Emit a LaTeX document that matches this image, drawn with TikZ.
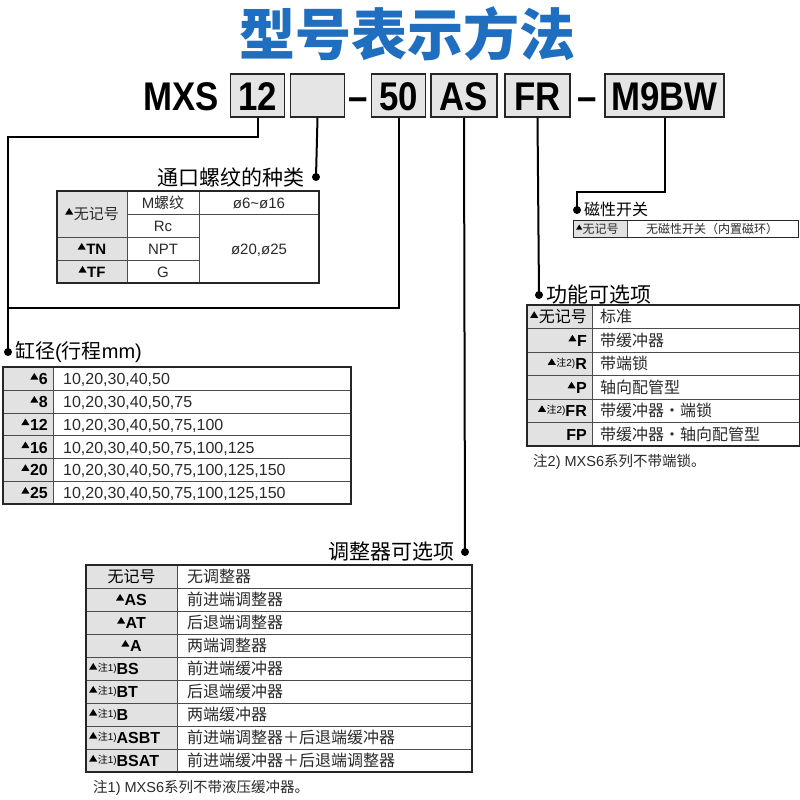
\documentclass[tikz,border=0pt]{standalone}
\usepackage{fontspec}
\setmainfont{Liberation Sans}
\newfontfamily\cjk{Noto Sans CJK SC}
\newfontfamily\cond[FakeStretch=0.87]{Liberation Sans}
\definecolor{titleblue}{HTML}{1F6EBF}
\definecolor{cellgray}{HTML}{E2E2E2}
\definecolor{ink}{HTML}{2A2A2A}
\newcommand\fs[1]{\fontsize{#1}{#1}\selectfont}
\newcommand\tri{\tikz[baseline=0pt,x=1pt,y=1pt]\fill[black] (0,5)--(8,5)--(4,11.5)--cycle;\hspace{0.6pt}}
\newcommand\tris{\tikz[baseline=0pt,x=1pt,y=1pt]\fill[black] (0,3.5)--(6,3.5)--(3,8.5)--cycle;\hspace{0.5pt}}
\newcommand\zhu[1]{\raisebox{3.5pt}{\mdseries\fs{10}{\cjk 注}#1)}}
\begin{document}
\begin{tikzpicture}[x=1pt,y=-1pt,
  conn/.style={line width=2pt,draw=black},
  bullet/.style={circle,fill=black,inner sep=0pt,minimum size=8pt},
  codebox/.style={draw=black!85,line width=1.5pt,fill=black!10,inner sep=0pt,minimum height=43pt,text height=29pt,text depth=0pt,font=\cond\bfseries\fs{40}},
  codetxt/.style={inner sep=0pt,font=\cond\bfseries\fs{40}},
  tblout/.style={draw=black!85,line width=1.3pt},
  gridline/.style={draw=black!70,line width=0.8pt},
  tx/.style={inner sep=0pt,text=ink},
  lab/.style={inner sep=0pt,text=black,font=\bfseries\fs{16}},
  f16/.style={font=\fs{16}},
  f15/.style={font=\fs{15}},
  head/.style={inner sep=0pt,text=black,font=\fs{21}}
]
\useasboundingbox (0,0) rectangle (800,800);
\fill[white] (0,0) rectangle (800,800);

% ---------- title ----------
\node[inner sep=0pt,anchor=base,text=titleblue,font=\cjk\bfseries\fs{56}] (title) at (407,56) {型号表示方法};

% ---------- code line ----------
\node[codetxt,anchor=base west] (mxs) at (143,110.5) {MXS};
\node[codebox,minimum width=54pt] (b12) at (257.5,95.5) {12};
\node[codebox,minimum width=54pt] (bE) at (317.5,95.5) {};
\node[codetxt,anchor=base] (d1) at (358,110.5) {–};
\node[codebox,minimum width=54pt] (b50) at (398.5,95.5) {50};
\node[codebox,minimum width=66pt] (bAS) at (464,95.5) {AS};
\node[codebox,minimum width=65pt] (bFR) at (537.5,95.5) {FR};
\node[codetxt,anchor=base] (d2) at (587,110.5) {–};
\node[codebox,minimum width=119pt] (bM) at (664.5,95.5) {M9BW};

% ---------- bullets & connectors ----------
\node[bullet] (pBore) at (8,352) {};
\node[bullet] (pPort) at (316,177) {};
\node[bullet] (pAdj) at (465,552) {};
\node[bullet] (pFun) at (539,295) {};
\node[bullet] (pMag) at (577,210) {};
\coordinate (c12) at (8,137);
\coordinate (c50) at (8,308);
\coordinate (cM) at (577,192);
\draw[conn] (b12.south) |- (c12) -- (pBore.center);
\draw[conn] (b50.south) |- (c50);
\draw[conn] (bE.south) -- (pPort.center);
\draw[conn] (bAS.south) -- (pAdj.center);
\draw[conn] (bFR.south) -- (pFun.center);
\draw[conn] (bM.south) |- (cM) -- (pMag.center);

% ---------- port thread table ----------
\node[head,anchor=base east] (hPort) at (305,185) {\cjk 通口螺纹的种类};
\fill[cellgray] (57,191) rectangle (127,283);
\draw[gridline] (127,191) -- (127,283) (199,191) -- (199,283)
  (57,237) -- (199,237) (57,260) -- (199,260) (127,214) -- (319,214);
\draw[tblout] (57,191) rectangle (319,283);
\node[tx,f15,anchor=base] at (92,219.5) {\tri{\cjk 无记号}};
\node[lab,font=\bfseries\fs{15},anchor=base] at (92,254.5) {\tri TN};
\node[lab,font=\bfseries\fs{15},anchor=base] at (92,277.5) {\tri TF};
\node[tx,f15,anchor=base] at (163,208.5) {M{\cjk 螺纹}};
\node[tx,f15,anchor=base] at (163,231.5) {Rc};
\node[tx,f15,anchor=base] at (163,254.5) {NPT};
\node[tx,f15,anchor=base] at (163,277.5) {G};
\node[tx,f15,anchor=base] at (259,208.5) {ø6\textasciitilde ø16};
\node[tx,f15,anchor=base] at (259,254.5) {ø20,ø25};

% ---------- magnetic switch ----------
\node[head,font=\fs{16},anchor=base west] (hMag) at (584,215) {\cjk 磁性开关};
\fill[cellgray] (573,220) rectangle (627,237);
\draw[gridline] (627,220) -- (627,237);
\draw[tblout,line width=1pt] (573,220) rectangle (798,237);
\node[tx,font=\fs{12},anchor=base west] at (576,233) {\tris{\cjk 无记号}};
\node[tx,font=\fs{12},anchor=base] at (712,233) {\cjk 无磁性开关（内置磁环）};

% ---------- function options ----------
\node[head,anchor=base west] (hFun) at (546,302) {\cjk 功能可选项};
\fill[cellgray] (527,305) rectangle (592,446);
\draw[gridline] (592,305) -- (592,446);
\foreach \y in {328.5,352,375.5,399,422.5} \draw[gridline] (527,\y) -- (800,\y);
\draw[tblout] (799.5,305) -- (527,305) -- (527,446) -- (799.5,446) -- cycle;
\node[tx,f16,text=black,anchor=base east] at (587,322.75) {\tri{\cjk 无记号}};
\node[lab,anchor=base east] at (587,346.25) {\tri F};
\node[lab,anchor=base east] at (587,369.75) {\tri\zhu{2}R};
\node[lab,anchor=base east] at (587,393.25) {\tri P};
\node[lab,anchor=base east] at (587,416.75) {\tri\zhu{2}FR};
\node[lab,anchor=base east] at (587,440.25) {FP};
\node[tx,f16,anchor=base west] at (600,322.75) {\cjk 标准};
\node[tx,f16,anchor=base west] at (600,346.25) {\cjk 带缓冲器};
\node[tx,f16,anchor=base west] at (600,369.75) {\cjk 带端锁};
\node[tx,f16,anchor=base west] at (600,393.25) {\cjk 轴向配管型};
\node[tx,f16,anchor=base west] at (600,416.75) {\cjk 带缓冲器・端锁};
\node[tx,f16,anchor=base west] at (600,440.25) {\cjk 带缓冲器・轴向配管型};
\node[tx,font=\fs{14.5},anchor=base west] (n2) at (533,466) {{\cjk 注}2) MXS6{\cjk 系列不带端锁。}};

% ---------- bore / stroke ----------
\node[head,font=\fs{20},anchor=base west] (hBore) at (15,358) {{\cjk 缸径}({\cjk 行程}mm)};
\fill[cellgray] (3,367) rectangle (53,504);
\draw[gridline] (53,367) -- (53,504);
\foreach \y in {390,413,435.5,458.5,481} \draw[gridline] (3,\y) -- (351,\y);
\draw[tblout] (3,367) rectangle (351,504);
\node[lab,anchor=base east] at (48,384.5) {\tri 6};
\node[lab,anchor=base east] at (48,407.5) {\tri 8};
\node[lab,anchor=base east] at (48,430) {\tri 12};
\node[lab,anchor=base east] at (48,453) {\tri 16};
\node[lab,anchor=base east] at (48,475.75) {\tri 20};
\node[lab,anchor=base east] at (48,498.5) {\tri 25};
\node[tx,f16,anchor=base west] at (63,384.5) {10,20,30,40,50};
\node[tx,f16,anchor=base west] at (63,407.5) {10,20,30,40,50,75};
\node[tx,f16,anchor=base west] at (63,430) {10,20,30,40,50,75,100};
\node[tx,f16,anchor=base west] at (63,453) {10,20,30,40,50,75,100,125};
\node[tx,f16,anchor=base west] at (63,475.75) {10,20,30,40,50,75,100,125,150};
\node[tx,f16,anchor=base west] at (63,498.5) {10,20,30,40,50,75,100,125,150};

% ---------- adjuster options ----------
\node[head,anchor=base east] (hAdj) at (455,559) {\cjk 调整器可选项};
\fill[cellgray] (86,565) rectangle (177,772);
\draw[gridline] (177,565) -- (177,772);
\foreach \y in {588,611,634,657,680,703,726,749} \draw[gridline] (86,\y) -- (472,\y);
\draw[tblout] (86,565) rectangle (472,772);
\node[tx,f16,text=black,anchor=base] at (131.5,582.5) {\cjk 无记号};
\node[lab,anchor=base] at (131.5,605.5) {\tri AS};
\node[lab,anchor=base] at (131.5,628.5) {\tri AT};
\node[lab,anchor=base] at (131.5,651.5) {\tri A};
\node[lab,anchor=base west] at (89,674.5) {\tri\zhu{1}BS};
\node[lab,anchor=base west] at (89,697.5) {\tri\zhu{1}BT};
\node[lab,anchor=base west] at (89,720.5) {\tri\zhu{1}B};
\node[lab,anchor=base west] at (89,743.5) {\tri\zhu{1}ASBT};
\node[lab,anchor=base west] at (89,766.5) {\tri\zhu{1}BSAT};
\node[tx,f16,anchor=base west] at (187,582.5) {\cjk 无调整器};
\node[tx,f16,anchor=base west] at (187,605.5) {\cjk 前进端调整器};
\node[tx,f16,anchor=base west] at (187,628.5) {\cjk 后退端调整器};
\node[tx,f16,anchor=base west] at (187,651.5) {\cjk 两端调整器};
\node[tx,f16,anchor=base west] at (187,674.5) {\cjk 前进端缓冲器};
\node[tx,f16,anchor=base west] at (187,697.5) {\cjk 后退端缓冲器};
\node[tx,f16,anchor=base west] at (187,720.5) {\cjk 两端缓冲器};
\node[tx,f16,anchor=base west] at (187,743.5) {\cjk 前进端调整器＋后退端缓冲器};
\node[tx,f16,anchor=base west] at (187,766.5) {\cjk 前进端缓冲器＋后退端调整器};
\node[tx,font=\fs{14.5},anchor=base west] (n1) at (93,792) {{\cjk 注}1) MXS6{\cjk 系列不带液压缓冲器。}};
\end{tikzpicture}
\end{document}
